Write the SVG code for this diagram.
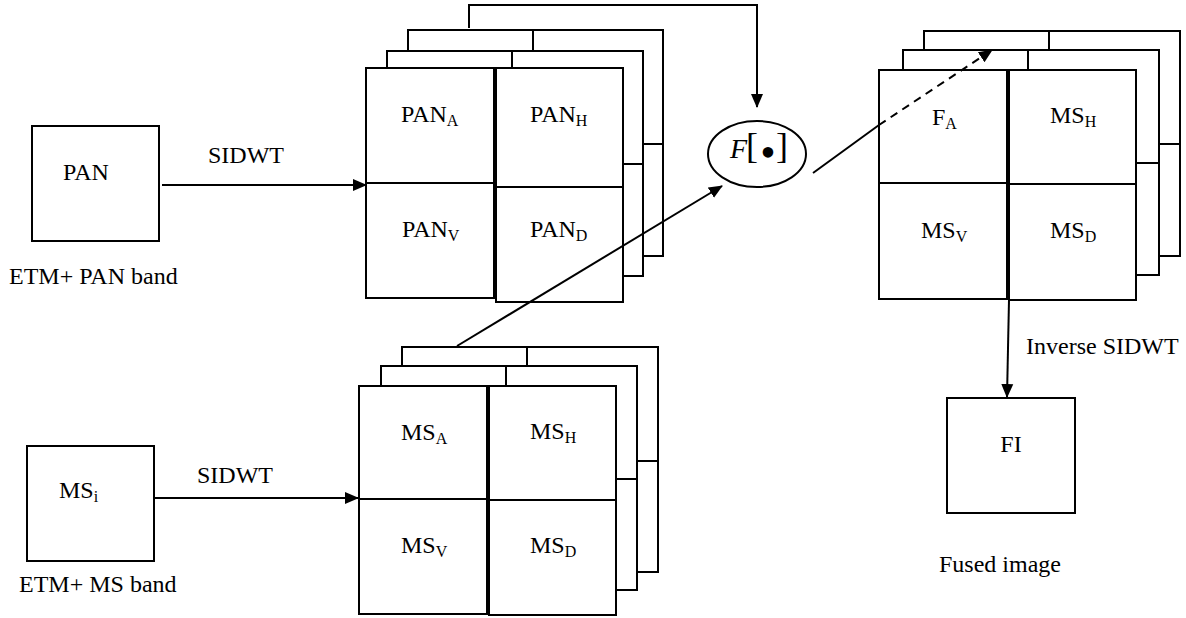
<svg xmlns="http://www.w3.org/2000/svg" width="1186" height="618" viewBox="0 0 1186 618">
<style>
  .bx { fill: #fff; stroke: #000; stroke-width: 2; }
  .ln { fill: none; stroke: #000; stroke-width: 2; }
  .t { font-family: "Liberation Serif", "Times New Roman", serif; font-size: 24px; fill: #000; }
  .sub { font-size: 16px; }
  .conn { fill: none; stroke: #000; stroke-width: 2; }
</style>
<defs>
  <marker id="ah" markerWidth="14" markerHeight="14" refX="13" refY="7" orient="auto" markerUnits="userSpaceOnUse">
    <path d="M0,1 L14,7 L0,13 z" fill="#000"/>
  </marker>
</defs>
<rect width="1186" height="618" fill="#fff"/>

<g id="pan-input">
  <rect class="bx" x="32" y="126" width="127" height="115"/>
  <text class="t" x="63" y="180">PAN</text>
  <text class="t" x="9" y="284">ETM+ PAN band</text>
</g>

<g id="pan-stack">
  <path class="ln" d="M408,51 V30 H663 V256 H643 M533,30 V51 M643,144 H663"/>
  <path class="ln" d="M387,68 V51 H643 V276 H623 M512,51 V68 M623,164 H643"/>
  <rect class="bx" x="366" y="68" width="128" height="230"/>
  <line class="ln" x1="366" y1="183" x2="494" y2="183"/>
  <rect class="bx" x="496" y="68" width="127" height="234"/>
  <line class="ln" x1="496" y1="187" x2="623" y2="187"/>
  <text class="t" x="401" y="122">PAN<tspan class="sub" dy="4">A</tspan></text>
  <text class="t" x="530" y="122">PAN<tspan class="sub" dy="4">H</tspan></text>
  <text class="t" x="402" y="237">PAN<tspan class="sub" dy="4">V</tspan></text>
  <text class="t" x="530" y="237">PAN<tspan class="sub" dy="4">D</tspan></text>
</g>

<g id="ms-input">
  <rect class="bx" x="27" y="446" width="127" height="115"/>
  <text class="t" x="59" y="498">MS<tspan class="sub" dy="4">i</tspan></text>
  <text class="t" x="19" y="592">ETM+ MS band</text>
</g>

<g id="ms-stack">
  <path class="ln" d="M402,366 V347 H658 V572 H637 M527,347 V366 M637,461 H658"/>
  <path class="ln" d="M381,386 V366 H637 V590 H616 M506,366 V386 M616,479 H637"/>
  <rect class="bx" x="359" y="386" width="128" height="228"/>
  <line class="ln" x1="359" y1="499" x2="487" y2="499"/>
  <rect class="bx" x="489" y="386" width="127" height="229"/>
  <line class="ln" x1="489" y1="500" x2="616" y2="500"/>
  <text class="t" x="401" y="440">MS<tspan class="sub" dy="4">A</tspan></text>
  <text class="t" x="530" y="439">MS<tspan class="sub" dy="4">H</tspan></text>
  <text class="t" x="401" y="553">MS<tspan class="sub" dy="4">V</tspan></text>
  <text class="t" x="530" y="553">MS<tspan class="sub" dy="4">D</tspan></text>
</g>

<g id="fusion-op">
  <ellipse class="bx" cx="757" cy="154" rx="49" ry="33"/>
  <text class="t" x="730" y="158" style="font-size:28px;font-style:italic">F</text>
  <text class="t" x="746" y="158" style="font-size:36px">[</text>
  <text class="t" x="768" y="167" style="font-size:44px" text-anchor="middle">•</text>
  <text class="t" x="776" y="158" style="font-size:36px">]</text>
</g>

<g id="fused-stack">
  <path class="ln" d="M924,50 V31 H1180 V256 H1159 M1049,31 V50 M1159,144 H1180"/>
  <path class="ln" d="M903,70 V50 H1159 V275 H1136 M1028,50 V70 M1136,163 H1159"/>
  <rect class="bx" x="879" y="70" width="128" height="229"/>
  <line class="ln" x1="879" y1="183" x2="1007" y2="183"/>
  <rect class="bx" x="1009" y="70" width="127" height="230"/>
  <line class="ln" x1="1009" y1="184" x2="1136" y2="184"/>
  <text class="t" x="932" y="125">F<tspan class="sub" dy="4">A</tspan></text>
  <text class="t" x="1050" y="123">MS<tspan class="sub" dy="4">H</tspan></text>
  <text class="t" x="921" y="238">MS<tspan class="sub" dy="4">V</tspan></text>
  <text class="t" x="1050" y="238">MS<tspan class="sub" dy="4">D</tspan></text>
</g>

<g id="fi-output">
  <rect class="bx" x="947" y="398" width="128" height="115"/>
  <text class="t" x="1011" y="452" text-anchor="middle">FI</text>
  <text class="t" x="939" y="572">Fused image</text>
</g>

<g id="connectors">
  <line class="conn" x1="162" y1="185" x2="366" y2="185" marker-end="url(#ah)"/>
  <text class="t" x="208" y="163">SIDWT</text>
  <line class="conn" x1="154" y1="498" x2="358" y2="498" marker-end="url(#ah)"/>
  <text class="t" x="197" y="483">SIDWT</text>
  <polyline class="conn" points="469,28 469,5 757,5 757,107" marker-end="url(#ah)"/>
  <line class="conn" x1="457" y1="346" x2="722" y2="186" marker-end="url(#ah)"/>
  <line class="conn" x1="813" y1="173" x2="879" y2="125"/>
  <line class="conn" x1="879" y1="125" x2="992" y2="50" stroke-dasharray="8,6" marker-end="url(#ah)"/>
  <line class="conn" x1="1009" y1="300" x2="1007" y2="397" marker-end="url(#ah)"/>
  <text class="t" x="1026" y="354">Inverse SIDWT</text>
</g>
</svg>
